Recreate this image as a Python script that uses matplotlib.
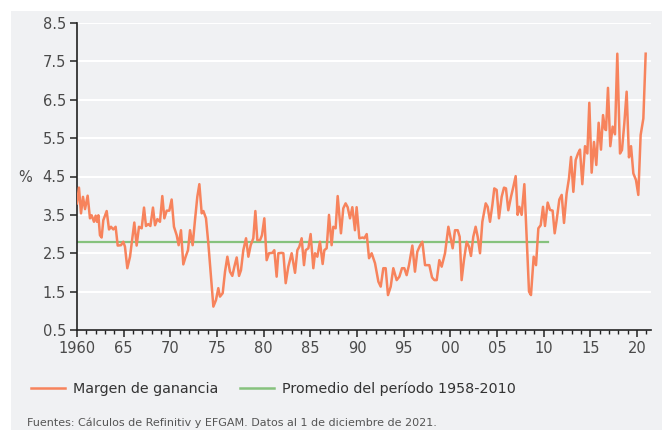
import numpy as np
import matplotlib
matplotlib.use("Agg")
import matplotlib.pyplot as plt
from matplotlib.patches import Rectangle
from matplotlib.lines import Line2D

# margen de ganancia (%), por tramos
t60 = [1960.0, 1960.21, 1960.43, 1960.64, 1960.86, 1961.14, 1961.39, 1961.57, 1961.82, 1962.0,
       1962.14, 1962.29, 1962.46, 1962.64, 1962.82, 1963.18, 1963.43, 1963.64, 1963.89, 1964.14,
       1964.36, 1964.71, 1964.96, 1965.14, 1965.39, 1965.68, 1966.14, 1966.39, 1966.64, 1966.93,
       1967.18, 1967.39, 1967.64, 1967.86, 1968.14, 1968.36, 1968.61, 1968.89, 1969.14, 1969.36,
       1969.61, 1969.89]
m60 = [3.80, 4.21, 3.54, 3.97, 3.65, 4.00, 3.41, 3.49, 3.32, 3.48,
       3.32, 3.49, 2.97, 2.91, 3.36, 3.60, 3.12, 3.19, 3.12, 3.19,
       2.70, 2.71, 2.80, 2.67, 2.11, 2.41, 3.30, 2.70, 3.19, 3.15,
       3.69, 3.21, 3.26, 3.21, 3.69, 3.23, 3.39, 3.32, 3.99, 3.41,
       3.61, 3.61]

t70 = [1970.14, 1970.39, 1970.68, 1970.89, 1971.14, 1971.39, 1971.64, 1971.89, 1972.11, 1972.39,
       1972.64, 1972.89, 1973.11, 1973.36, 1973.54, 1973.82, 1974.07, 1974.32, 1974.61, 1974.89,
       1975.14, 1975.32, 1975.61, 1975.86, 1976.11, 1976.39, 1976.64, 1976.86, 1977.11, 1977.36,
       1977.57, 1977.82, 1978.11, 1978.36, 1978.61, 1978.89, 1979.11, 1979.32, 1979.61, 1979.82,
       1980.07]
m70 = [3.90, 3.19, 2.97, 2.71, 3.10, 2.21, 2.41, 2.58, 3.10, 2.71,
       3.36, 3.97, 4.30, 3.54, 3.60, 3.41, 2.76, 1.98, 1.11, 1.28,
       1.59, 1.37, 1.46, 2.02, 2.41, 2.02, 1.91, 2.15, 2.39, 1.91,
       2.06, 2.58, 2.89, 2.41, 2.71, 2.89, 3.60, 2.84, 2.84, 2.97,
       3.41]

t80 = [1980.32, 1980.57, 1980.93, 1981.14, 1981.39, 1981.57, 1981.93, 1982.11, 1982.36, 1982.64,
       1983.0, 1983.36, 1983.61, 1983.82, 1984.07, 1984.32, 1984.5, 1984.79, 1985.03, 1985.32,
       1985.5, 1985.75, 1986.03, 1986.32, 1986.5, 1986.75, 1987.0, 1987.28, 1987.46, 1987.71,
       1987.93, 1988.28, 1988.53, 1988.78, 1989.0, 1989.25, 1989.5, 1989.78, 1989.96, 1990.25]
m80 = [2.32, 2.50, 2.51, 2.58, 1.89, 2.50, 2.51, 2.50, 1.72, 2.15,
       2.50, 1.99, 2.58, 2.67, 2.89, 2.19, 2.58, 2.63, 3.00, 2.11,
       2.50, 2.41, 2.80, 2.22, 2.58, 2.63, 3.50, 2.71, 3.19, 3.15,
       3.99, 3.02, 3.67, 3.80, 3.70, 3.41, 3.70, 3.10, 3.70, 2.89]

t90 = [1990.61, 1990.79, 1991.04, 1991.29, 1991.57, 1991.93, 1992.29, 1992.54, 1992.82, 1993.07,
       1993.32, 1993.61, 1993.89, 1994.25, 1994.54, 1994.82, 1995.07, 1995.32, 1995.57, 1995.93,
       1996.21, 1996.46, 1996.75, 1997.0, 1997.29, 1997.54, 1997.75, 1998.04, 1998.29, 1998.54,
       1998.82, 1999.07, 1999.43, 1999.79, 2000.04, 2000.25]
m90 = [2.91, 2.89, 3.00, 2.37, 2.50, 2.24, 1.76, 1.63, 2.11, 2.11,
       1.41, 1.63, 2.11, 1.80, 1.89, 2.11, 2.11, 1.93, 2.19, 2.70,
       2.02, 2.54, 2.70, 2.80, 2.19, 2.19, 2.19, 1.87, 1.80, 1.80,
       2.32, 2.15, 2.50, 3.19, 2.89, 2.63]

t00 = [2000.5, 2000.79, 2001.0, 2001.21, 2001.46, 2001.75, 2002.0, 2002.21, 2002.46, 2002.71,
       2002.93, 2003.18, 2003.43, 2003.79, 2004.0, 2004.25, 2004.5, 2004.71, 2004.96, 2005.21,
       2005.5, 2005.75, 2005.96, 2006.21, 2006.5, 2006.75, 2007.0, 2007.21, 2007.39, 2007.64,
       2007.93, 2008.18, 2008.43, 2008.64, 2008.93, 2009.18, 2009.43, 2009.68, 2009.93, 2010.14,
       2010.43]
m00 = [3.10, 3.10, 2.93, 1.80, 2.32, 2.80, 2.67, 2.43, 2.93, 3.19,
       2.93, 2.50, 3.32, 3.80, 3.71, 3.32, 3.75, 4.19, 4.15, 3.41,
       3.97, 4.21, 4.19, 3.62, 3.97, 4.23, 4.51, 3.50, 3.71, 3.50,
       4.30, 2.93, 1.50, 1.41, 2.41, 2.19, 3.15, 3.23, 3.71, 3.21,
       3.82]

t10 = [2010.68, 2010.96, 2011.18, 2011.39, 2011.68, 2011.93, 2012.18, 2012.46, 2012.71, 2012.93,
       2013.18, 2013.43, 2013.68, 2013.89, 2014.14, 2014.43, 2014.68, 2014.89, 2015.14, 2015.39,
       2015.64, 2015.89, 2016.14, 2016.36, 2016.57, 2016.68, 2016.89, 2017.14, 2017.39, 2017.64,
       2017.89, 2018.18, 2018.39, 2018.64, 2018.89, 2019.14, 2019.36, 2019.61, 2019.89, 2020.14,
       2020.39, 2020.68, 2020.93]
m10 = [3.63, 3.61, 3.02, 3.36, 3.90, 4.02, 3.29, 4.06, 4.45, 5.01,
       4.10, 4.93, 5.10, 5.20, 4.30, 5.29, 5.10, 6.42, 4.60, 5.40,
       4.80, 5.90, 5.20, 6.10, 5.73, 5.71, 6.81, 5.29, 5.80, 5.60,
       7.70, 5.10, 5.19, 5.88, 6.71, 5.00, 5.29, 4.58, 4.41, 4.02,
       5.58, 6.01, 7.70]

# promedio 1958-2010
avg_value = 2.8
avg_span = [1960.0, 2010.5]

years = np.array(t60 + t70 + t80 + t90 + t00 + t10)
margin = np.array(m60 + m70 + m80 + m90 + m00 + m10)

orange = "#f7835c"
green = "#86c27d"
bg = "#f0f1f3"
txt = "#4a4a4a"

plt.rcParams['font.family'] = ['Liberation Sans Narrow', 'DejaVu Sans']

fig = plt.figure(figsize=(6.62, 4.30), dpi=100, facecolor="white")
fig.patches.append(Rectangle((11/662, 0), 1, 1 - 11/430, transform=fig.transFigure,
                             facecolor=bg, edgecolor="none", zorder=-10))

ax = fig.add_axes([77/662, 1 - 330/430, (651 - 77)/662, (330 - 23)/430])
ax.set_facecolor("none")

ax.plot(avg_span, [avg_value, avg_value], color=green, lw=1.6, zorder=2)
ax.plot(years, margin, color=orange, lw=1.8, zorder=3)

ax.set_xlim(1960, 2021.5)
ax.set_ylim(0.5, 8.5)

yt = np.arange(0.5, 8.6, 1.0)
ax.set_yticks(yt)
ax.set_yticklabels([f"{v:.1f}" for v in yt])
ax.yaxis.grid(True, color="white", lw=1.5)
ax.set_axisbelow(True)

xt = np.arange(1960, 2021, 5)
ax.set_xticks(xt)
ax.set_xticklabels(["1960"] + [f"{y % 100:02d}" for y in xt[1:]])
ax.set_xticks(np.arange(1960, 2022, 1), minor=True)

for s in ["top", "right"]:
    ax.spines[s].set_visible(False)
for s in ["left", "bottom"]:
    ax.spines[s].set_color("#222222")
    ax.spines[s].set_linewidth(1.2)

ax.tick_params(axis="both", which="major", length=5, width=1.1, color="#222222",
               labelsize=10.5, labelcolor=txt, pad=3)
ax.tick_params(axis="x", which="minor", length=3, width=1.0, color="#222222")

fig.text(25/662, 1 - 178/430, "%", fontsize=10.5, color=txt, ha="center", va="center")

handles = [Line2D([], [], color=orange, lw=1.8), Line2D([], [], color=green, lw=1.8)]
fig.legend(handles, ["Margen de ganancia", "Promedio del período 1958-2010"],
           loc="center left", bbox_to_anchor=(18/662, 1 - 389/430), ncol=2, frameon=False,
           fontsize=10.3, labelcolor="#333333", handlelength=2.4, handletextpad=0.55,
           columnspacing=1.5)

fig.text(27/662, 1 - 423/430, "Fuentes: Cálculos de Refinitiv y EFGAM. Datos al 1 de diciembre de 2021.",
         fontsize=8.0, color="#555555", ha="left", va="center")

fig.savefig("out.png", dpi=100, facecolor=fig.get_facecolor())
